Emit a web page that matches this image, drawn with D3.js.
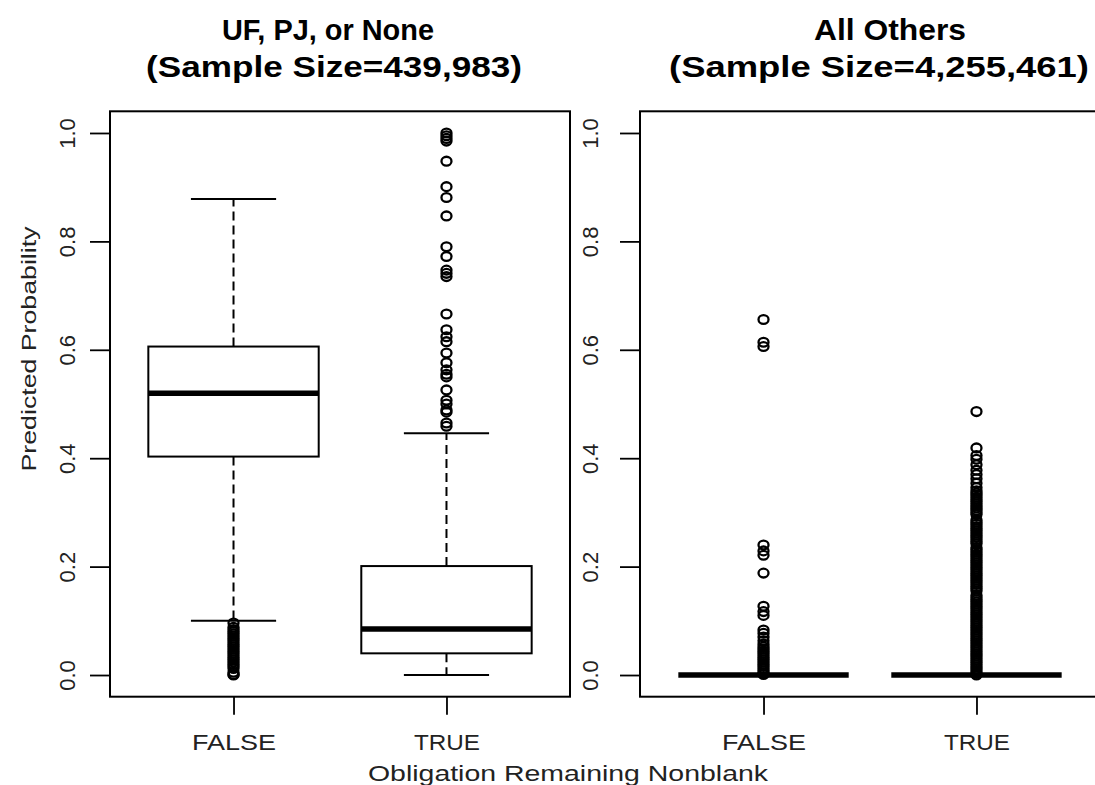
<!DOCTYPE html>
<html>
<head>
<meta charset="utf-8">
<script src="https://cdn.jsdelivr.net/npm/d3@7"></script>
<style>
  body { margin: 0; background: #fff; }
  svg { display: block; font-family: "Liberation Sans", Arial, sans-serif; }
</style>
</head>
<body>
<svg id="chart" width="1095" height="785"></svg>
<script>
// ---- data ----
const categories = ["FALSE", "TRUE"];
const panelNames = ["UF, PJ, or None", "All Others"];
const sampleSizes = ["439,983", "4,255,461"];
const yTicks = [0, 0.2, 0.4, 0.6, 0.8, 1.0];
const yTickLabels = ["0.0", "0.2", "0.4", "0.6", "0.8", "1.0"];
const xTitle = "Obligation Remaining Nonblank";
const yTitle = "Predicted Probability";

// five-number summaries: lower whisker, Q1, median, Q3, upper whisker
const ufFalseStats = [0.100, 0.403, 0.520, 0.606, 0.878];
const ufTrueStats = [0.000, 0.040, 0.085, 0.201, 0.446];
const othersFalseStats = [0, 0, 0, 0, 0];
const othersTrueStats = [0, 0, 0, 0, 0];

// outlying predictions
const ufFalseOutliers = [0.096, 0.088, 0.084, 0.080, 0.076, 0.072, 0.068, 0.064, 0.060,
  0.056, 0.052, 0.048, 0.044, 0.040, 0.036, 0.032, 0.028, 0.024, 0.020, 0.016, 0.012,
  0.005, 0.001, 0.000];
const ufTrueOutliers = [1.000, 0.995, 0.990, 0.985, 0.948, 0.901, 0.881, 0.847, 0.790,
  0.772, 0.747, 0.741, 0.735, 0.666, 0.637, 0.624, 0.615, 0.594, 0.576, 0.563, 0.555,
  0.550, 0.526, 0.507, 0.500, 0.489, 0.485, 0.465, 0.459];
const othersFalseOutliers = [0.656, 0.614, 0.606, 0.240, 0.229, 0.221, 0.188, 0.127,
  0.117, 0.110, 0.083, 0.077, 0.070, 0.063, 0.057, 0.052, 0.048, 0.044, 0.040, 0.036,
  0.032, 0.028, 0.024, 0.020, 0.016, 0.012, 0.008, 0.004, 0.001];
const othersTrueOutliers = [0.486, 0.419, 0.405, 0.398, 0.388, 0.378, 0.370, 0.362,
  0.354, 0.346, 0.340, 0.336, 0.332, 0.328, 0.324, 0.320, 0.316, 0.312, 0.308, 0.304,
  0.300, 0.296, 0.286, 0.282, 0.278, 0.274, 0.270, 0.266, 0.262, 0.258, 0.254, 0.250,
  0.246, 0.242, 0.235, 0.231, 0.227, 0.223, 0.219, 0.215, 0.211, 0.207, 0.203, 0.199,
  0.195, 0.191, 0.187, 0.183, 0.179, 0.175, 0.171, 0.167, 0.163, 0.159, 0.155, 0.147,
  0.143, 0.139, 0.135, 0.131, 0.127, 0.123, 0.119, 0.115, 0.111, 0.107, 0.103, 0.099,
  0.095, 0.091, 0.087, 0.083, 0.079, 0.075, 0.071, 0.067, 0.063, 0.059, 0.055, 0.051,
  0.047, 0.043, 0.039, 0.035, 0.031, 0.027, 0.023, 0.019, 0.015, 0.011, 0.007, 0.003,
  0.000];

const panels = [
  { name: panelNames[0], n: sampleSizes[0],
    groups: [{ cat: categories[0], stats: ufFalseStats, out: ufFalseOutliers },
             { cat: categories[1], stats: ufTrueStats, out: ufTrueOutliers }] },
  { name: panelNames[1], n: sampleSizes[1],
    groups: [{ cat: categories[0], stats: othersFalseStats, out: othersFalseOutliers },
             { cat: categories[1], stats: othersTrueStats, out: othersTrueOutliers }] }
];

// ---- layout ----
const svg = d3.select("#chart");
const panelLeft = [110, 640];
const panelWidth = 460;
const plotTop = 111.3, plotBottom = 696.7;
const titleWidths = [[212, 376], [152, 420]];
const titleCenters = [[328, 334], [890, 879]];

const y = d3.scaleLinear().domain([-0.04, 1.04]).range([plotBottom, plotTop]);

panels.forEach((p, pi) => {
  const x0 = panelLeft[pi];
  const x = d3.scaleLinear().domain([0.42, 2.58]).range([x0, x0 + panelWidth]);
  const g = svg.append("g");

  // titles
  g.append("text").attr("x", titleCenters[pi][0]).attr("y", 40).attr("text-anchor", "middle")
    .attr("font-size", 30).attr("font-weight", "bold")
    .attr("textLength", titleWidths[pi][0]).attr("lengthAdjust", "spacingAndGlyphs")
    .text(p.name);
  g.append("text").attr("x", titleCenters[pi][1]).attr("y", 77).attr("text-anchor", "middle")
    .attr("font-size", 30).attr("font-weight", "bold")
    .attr("textLength", titleWidths[pi][1]).attr("lengthAdjust", "spacingAndGlyphs")
    .text(`(Sample Size=${p.n})`);

  // y axis
  const yAxis = d3.axisLeft(y).tickValues(yTicks).tickSize(20)
    .tickFormat((d, i) => yTickLabels[i]);
  const ya = g.append("g").attr("transform", `translate(${x0},0)`).call(yAxis);
  ya.select(".domain").remove();
  ya.selectAll(".tick line").attr("stroke", "#000").attr("stroke-width", 1.8);
  ya.selectAll(".tick text")
    .attr("x", null).attr("dy", null)
    .attr("transform", `translate(${pi === 0 ? -35 : -42},0) rotate(-90)`)
    .attr("text-anchor", "middle")
    .attr("font-size", 22).attr("fill", "#222")
    .attr("font-family", "Liberation Sans, Arial, sans-serif");

  // x axis
  const xAxis = d3.axisBottom(x).tickValues([1, 2]).tickSize(18)
    .tickFormat((d, i) => p.groups[i].cat);
  const xa = g.append("g").attr("transform", `translate(0,${plotBottom})`).call(xAxis);
  xa.select(".domain").remove();
  xa.selectAll(".tick line").attr("stroke", "#000").attr("stroke-width", 1.8);
  xa.selectAll(".tick text").attr("y", 53).attr("dy", null)
    .attr("font-size", 22).attr("fill", "#222")
    .attr("textLength", (d, i) => i === 0 ? 84 : 66).attr("lengthAdjust", "spacingAndGlyphs")
    .attr("font-family", "Liberation Sans, Arial, sans-serif");

  // boxes
  p.groups.forEach((grp, gi) => {
    const pos = gi + 1;
    const [lo, q1, med, q3, hi] = grp.stats;
    const bg = g.append("g");
    // whiskers
    bg.selectAll("line.whisker").data([[q3, hi], [q1, lo]]).join("line")
      .attr("class", "whisker")
      .attr("x1", x(pos)).attr("x2", x(pos))
      .attr("y1", d => y(d[0])).attr("y2", d => y(d[1]))
      .attr("stroke", "#000").attr("stroke-width", 2).attr("stroke-dasharray", "9,5");
    // staples
    bg.selectAll("line.staple").data([hi, lo]).join("line")
      .attr("class", "staple")
      .attr("x1", x(pos - 0.2)).attr("x2", x(pos + 0.2))
      .attr("y1", d => y(d)).attr("y2", d => y(d))
      .attr("stroke", "#000").attr("stroke-width", 2);
    // box
    bg.append("rect")
      .attr("x", x(pos - 0.4)).attr("width", x(pos + 0.4) - x(pos - 0.4))
      .attr("y", y(q3)).attr("height", Math.max(0, y(q1) - y(q3)))
      .attr("fill", "none").attr("stroke", "#000").attr("stroke-width", 2);
    // median
    bg.append("line")
      .attr("x1", x(pos - 0.4)).attr("x2", x(pos + 0.4))
      .attr("y1", y(med)).attr("y2", y(med))
      .attr("stroke", "#000").attr("stroke-width", 5.5);
    // outliers
    bg.selectAll("ellipse").data(grp.out).join("ellipse")
      .attr("cx", x(pos)).attr("cy", d => y(d))
      .attr("rx", 5).attr("ry", 4.4)
      .attr("fill", "none").attr("stroke", "#000").attr("stroke-width", 2.3);
  });

  // frame
  g.append("rect").attr("x", x0).attr("y", plotTop)
    .attr("width", panelWidth).attr("height", plotBottom - plotTop)
    .attr("fill", "none").attr("stroke", "#000").attr("stroke-width", 2);
});

// shared axis titles
svg.append("text")
  .attr("transform", "translate(36,349) rotate(-90)")
  .attr("text-anchor", "middle").attr("font-size", 21).attr("fill", "#222")
  .attr("textLength", 245).attr("lengthAdjust", "spacingAndGlyphs")
  .text(yTitle);
svg.append("text")
  .attr("x", 568).attr("y", 781).attr("text-anchor", "middle")
  .attr("font-size", 22).attr("fill", "#222")
  .attr("textLength", 400).attr("lengthAdjust", "spacingAndGlyphs")
  .text(xTitle);
</script>
</body>
</html>
